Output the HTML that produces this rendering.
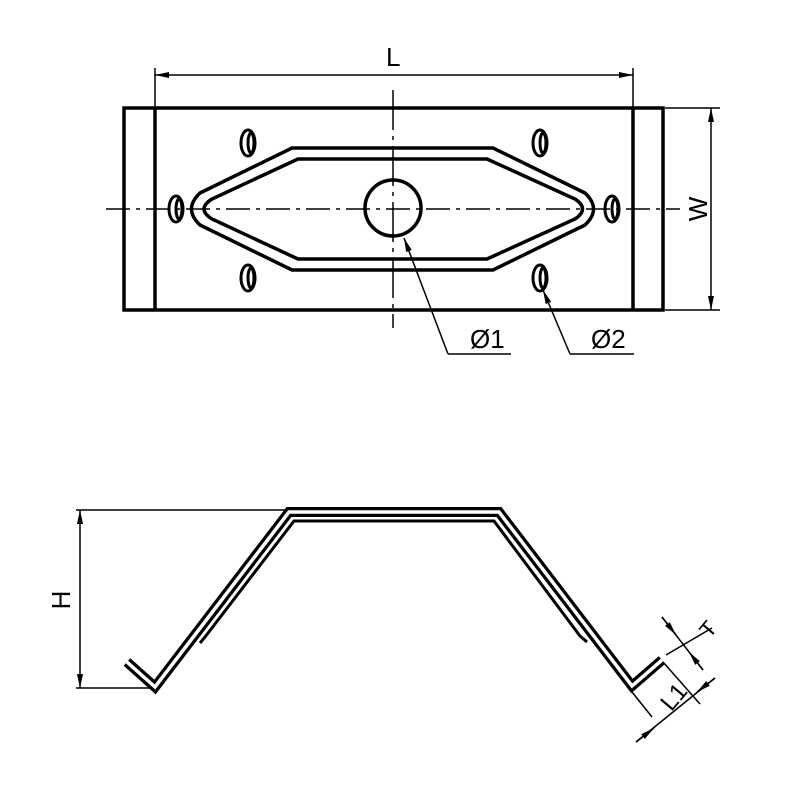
<!DOCTYPE html>
<html><head><style>body{margin:0;background:#fff}svg{display:block}</style></head>
<body>
<svg width="800" height="800" viewBox="0 0 800 800" xmlns="http://www.w3.org/2000/svg" font-family="Liberation Sans, sans-serif">
<defs>
<marker id="a" markerWidth="14" markerHeight="8" refX="14" refY="4" orient="auto" markerUnits="userSpaceOnUse"><path d="M0,1 L14,4 L0,7 Z" fill="#000"/></marker>
<marker id="b" markerWidth="14" markerHeight="8" refX="0" refY="4" orient="auto" markerUnits="userSpaceOnUse"><path d="M14,1 L0,4 L14,7 Z" fill="#000"/></marker>
</defs>
<g fill="none" stroke="#000">
<rect x="124" y="108" width="539" height="202" stroke-width="3.5"/>
<line x1="155" y1="108" x2="155" y2="310" stroke-width="3.5"/>
<line x1="633" y1="108" x2="633" y2="310" stroke-width="3.5"/>
<line x1="155" y1="108" x2="155" y2="68" stroke-width="1.5"/>
<line x1="633" y1="108" x2="633" y2="68" stroke-width="1.5"/>
<line x1="155" y1="75" x2="633" y2="75" stroke-width="1.5" marker-start="url(#b)" marker-end="url(#a)"/>
<line x1="665" y1="108" x2="720" y2="108" stroke-width="1.5"/>
<line x1="665" y1="310" x2="720" y2="310" stroke-width="1.5"/>
<line x1="711" y1="108" x2="711" y2="310" stroke-width="1.5" marker-start="url(#b)" marker-end="url(#a)"/>
<line x1="106" y1="209" x2="680" y2="209" stroke-width="1.5" stroke-dasharray="24,6,4,6"/>
<line x1="393" y1="90" x2="393" y2="328" stroke-width="1.5" stroke-dasharray="40,6,4,6"/>
<path d="M292,148 L493,148 L585,193 Q602,209 585,225 L493,270 L292,270 L200,225 Q183,209 200,193 Z" stroke-width="3.5"/>
<path d="M298,159 L487,159 L575,199 Q590,209 575,219 L487,259 L298,259 L212,219 Q196,209 212,199 Z" stroke-width="3.5"/>
<circle cx="393" cy="208" r="28" stroke-width="3.5"/>
<g stroke-width="3">
<ellipse cx="248" cy="143" rx="7" ry="13"/><ellipse cx="251" cy="143" rx="3" ry="10"/>
<ellipse cx="540" cy="143" rx="7" ry="13"/><ellipse cx="543" cy="143" rx="3" ry="10"/>
<ellipse cx="248" cy="278" rx="7" ry="13"/><ellipse cx="251" cy="278" rx="3" ry="10"/>
<ellipse cx="540" cy="278" rx="7" ry="13"/><ellipse cx="543" cy="278" rx="3" ry="10"/>
<ellipse cx="176" cy="209" rx="7" ry="13"/><ellipse cx="179" cy="209" rx="3" ry="10"/>
<ellipse cx="612" cy="209" rx="7" ry="13"/><ellipse cx="615" cy="209" rx="3" ry="10"/>
</g>
<path d="M448,354 L404,238" stroke-width="1.5" marker-end="url(#a)"/>
<line x1="448" y1="354" x2="511" y2="354" stroke-width="1.5"/>
<path d="M570,354 L543,290" stroke-width="1.5" marker-end="url(#a)"/>
<line x1="570" y1="354" x2="634" y2="354" stroke-width="1.5"/>
<line x1="76" y1="510" x2="290" y2="510" stroke-width="1.5"/>
<line x1="76" y1="688" x2="155" y2="688" stroke-width="1.5"/>
<line x1="80" y1="510" x2="80" y2="688" stroke-width="1.5" marker-start="url(#b)" marker-end="url(#a)"/>
<path d="M127,662 L155,687 L289,512 L499,512 L632,686 L662,660" stroke-width="10"/>
<path d="M127,662 L155,687 L289,512 L499,512 L632,686 L662,660" stroke-width="3.5" stroke="#fff"/>
<path d="M200,643 L205,637 L294,521 L494,521 L580,636 L587,642" stroke-width="3"/>
<line x1="632" y1="692" x2="652" y2="717" stroke-width="1.5"/>
<line x1="663" y1="662" x2="700" y2="704" stroke-width="1.5"/>
<line x1="636" y1="742" x2="715" y2="678" stroke-width="1.5"/>
<path d="M636,742 L654,728" stroke-width="1.5" marker-end="url(#a)"/>
<path d="M715,678 L697,692" stroke-width="1.5" marker-end="url(#a)"/>
<line x1="666" y1="655" x2="712" y2="628" stroke-width="1.5"/>
<line x1="662" y1="617" x2="703" y2="670" stroke-width="1.5"/>
<path d="M662,617 L676,635" stroke-width="1.5" marker-end="url(#a)"/>
<path d="M703,670 L689,652" stroke-width="1.5" marker-end="url(#a)"/>
</g>
<g font-size="26" fill="#000">
<text x="386" y="66">L</text>
<text x="470" y="348">Ø1</text>
<text x="591" y="348">Ø2</text>
<text transform="translate(707,209) rotate(-90)" text-anchor="middle">W</text>
<text transform="translate(70,600) rotate(-90)" text-anchor="middle">H</text>
<text transform="translate(680,702) rotate(-50)" text-anchor="middle" font-size="24">L1</text>
<text transform="translate(714,634) rotate(-50)" text-anchor="middle" font-size="22">T</text>
</g>
</svg>
</body></html>
